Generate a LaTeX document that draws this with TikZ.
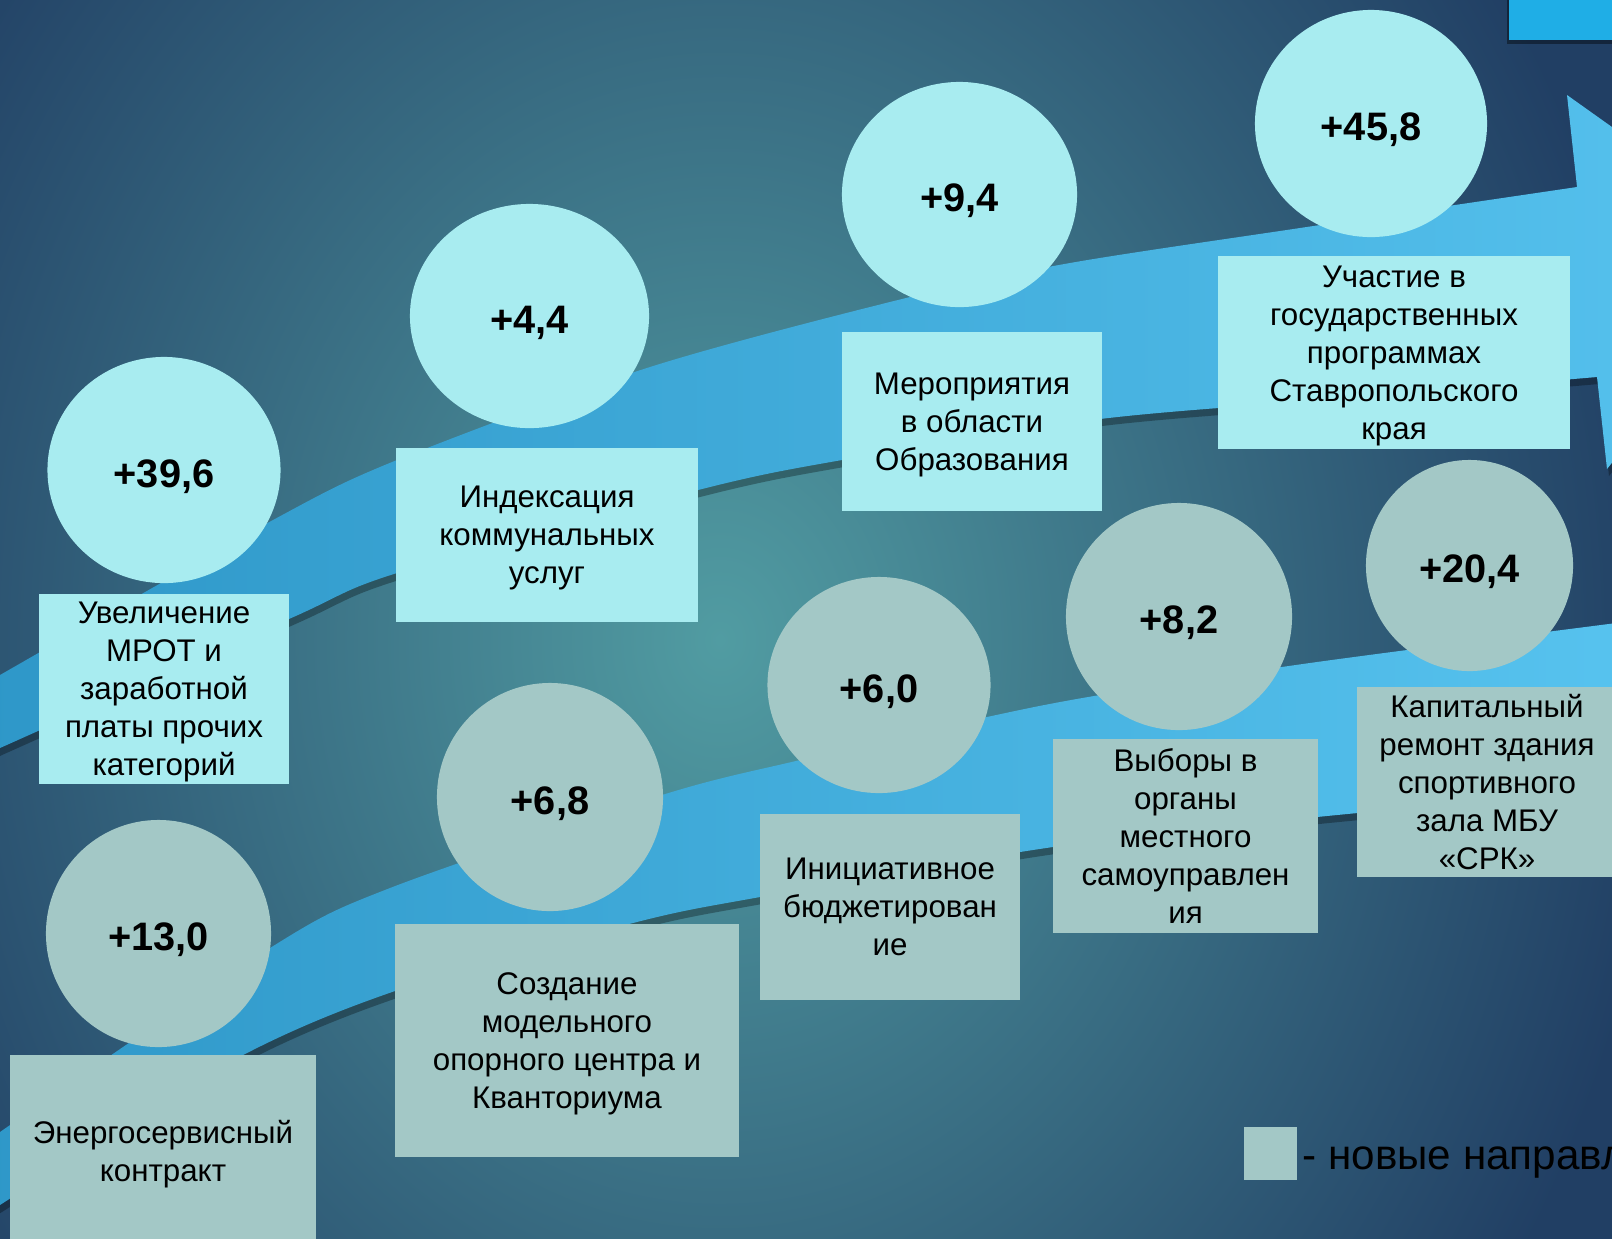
\documentclass[tikz,border=0pt]{standalone}
\usepackage{fontspec}
\setmainfont{Liberation Sans}
\usetikzlibrary{shapes.geometric,shadows}

\definecolor{bgdark}{HTML}{213F64}
\definecolor{bglight}{HTML}{519CA2}
\definecolor{arrowdark}{HTML}{2E97C8}
\definecolor{arrowlight}{HTML}{57C3EF}
\definecolor{curfill}{HTML}{A8ECF0}
\definecolor{newfill}{HTML}{A3C8C6}
\definecolor{cornerblue}{HTML}{1FAEE6}

\tikzset{
  sumcirc/.style={ellipse, inner sep=0pt, text height=9.7pt, text depth=0pt, font=\fontsize{11.3}{13}\selectfont\bfseries},
  curcirc/.style={sumcirc, fill=curfill},
  newcirc/.style={sumcirc, fill=newfill},
  itembox/.style={rectangle, inner sep=0pt, align=center, text depth=-1pt, font=\fontsize{8.9}{10.8}\selectfont},
  curbox/.style={itembox, fill=curfill},
  newbox/.style={itembox, fill=newfill},
  bandshadow/.style={drop shadow={fill=black, shadow xshift=0.02cm, shadow yshift=-0.07cm, opacity=0.3}},
}

\begin{document}
\begin{tikzpicture}[x=0.01cm, y=-0.01cm]
  \useasboundingbox (0,0) rectangle (1612,1238);
  \clip (-5,-5) rectangle (1617,1243);

  % background
  \fill[bgdark] (-10,-10) rectangle (1622,1248);
  \shade[inner color=bglight, outer color=bgdark] (720,640) ellipse (9.5cm and 11.5cm);

  % upper arrow
  \shade[bandshadow, left color=arrowdark, right color=arrowlight]
    (-20,687) -- plot[smooth, tension=0.5] coordinates {(0,675) (273,520) (397,460) (650,367) (910,297) (1070,263) (1300,228) (1577,187)}
    -- (1567,95) -- (1782,248) -- (1607,469)
    -- plot[smooth, tension=0.5] coordinates {(1597,377) (1350,398) (1100,419) (842,460) (698,490) (397,573) (289,619) (0,748)}
    -- (-20,758) -- cycle;

  % lower arrow
  \shade[bandshadow, left color=arrowdark, right color=arrowlight]
    (-20,1146) -- plot[smooth, tension=0.5] coordinates {(0,1132) (270,948) (390,888) (662,795) (800,760) (987,717) (1100,695) (1317,662) (1640,620)}
    -- plot[smooth, tension=0.5] coordinates {(1640,787) (1317,817) (1053,847) (760,897) (633,923) (395,991) (230,1062) (0,1205)}
    -- (-20,1217) -- cycle;

  % corner tab
  \fill[cornerblue, drop shadow={fill=black, shadow xshift=-0.02cm, shadow yshift=-0.04cm, opacity=0.4}] (1509,-10) rectangle (1622,40);

  % existing items
  \node[curcirc, minimum width=2.33cm, minimum height=2.26cm] (mrot) at (164,470) {+39,6};
  \node[curbox, minimum width=2.50cm, minimum height=1.90cm] (mrotbox) at (164,689)
    {Увеличение\\МРОТ и\\заработной\\платы прочих\\категорий};

  \node[curcirc, minimum width=2.39cm, minimum height=2.24cm] (util) at (529.5,316) {+4,4};
  \node[curbox, minimum width=3.02cm, minimum height=1.74cm] (utilbox) at (547,535)
    {Индексация\\коммунальных\\услуг};

  \node[curcirc, minimum width=2.35cm, minimum height=2.25cm] (edu) at (959.5,194.5) {+9,4};
  \node[curbox, minimum width=2.60cm, minimum height=1.79cm] (edubox) at (972,421.5)
    {Мероприятия\\в области\\Образования};

  \node[curcirc, minimum width=2.32cm, minimum height=2.27cm] (gosprog) at (1371,123.5) {+45,8};
  \node[curbox, minimum width=3.52cm, minimum height=1.93cm] (gosprogbox) at (1394,352.5)
    {Участие в\\государственных\\программах\\Ставропольского\\края};

  % new items
  \node[newcirc, minimum width=2.25cm, minimum height=2.27cm] (energy) at (158.5,933.5) {+13,0};
  \node[newbox, minimum width=3.06cm, minimum height=1.91cm] (energybox) at (163,1151)
    {Энергосервисный\\контракт};

  \node[newcirc, minimum width=2.26cm, minimum height=2.28cm] (kvant) at (550,797) {+6,8};
  \node[newbox, minimum width=3.44cm, minimum height=2.33cm] (kvantbox) at (567,1040.5)
    {Создание\\модельного\\опорного центра и\\Кванториума};

  \node[newcirc, minimum width=2.23cm, minimum height=2.16cm] (budget) at (879,685) {+6,0};
  \node[newbox, minimum width=2.60cm, minimum height=1.86cm] (budgetbox) at (890,907)
    {Инициативное\\бюджетирован\\ие};

  \node[newcirc, minimum width=2.26cm, minimum height=2.27cm] (vybory) at (1179,616.5) {+8,2};
  \node[newbox, minimum width=2.65cm, minimum height=1.94cm] (vyborybox) at (1185.5,836)
    {Выборы в\\органы\\местного\\самоуправлен\\ия};

  \node[newcirc, minimum width=2.07cm, minimum height=2.11cm] (sport) at (1469.5,565.5) {+20,4};
  \node[newbox, minimum width=2.60cm, minimum height=1.90cm] (sportbox) at (1487,782)
    {Капитальный\\ремонт здания\\спортивного\\зала МБУ\\«СРК»};

  % legend
  \node[newbox, minimum width=0.53cm, minimum height=0.53cm] (legsq) at (1270.5,1153.5) {};
  \node[anchor=base west, inner sep=0pt, font=\fontsize{12}{14}\selectfont] (legtext) at (1302,1169) {- новые направл};
\end{tikzpicture}
\end{document}
